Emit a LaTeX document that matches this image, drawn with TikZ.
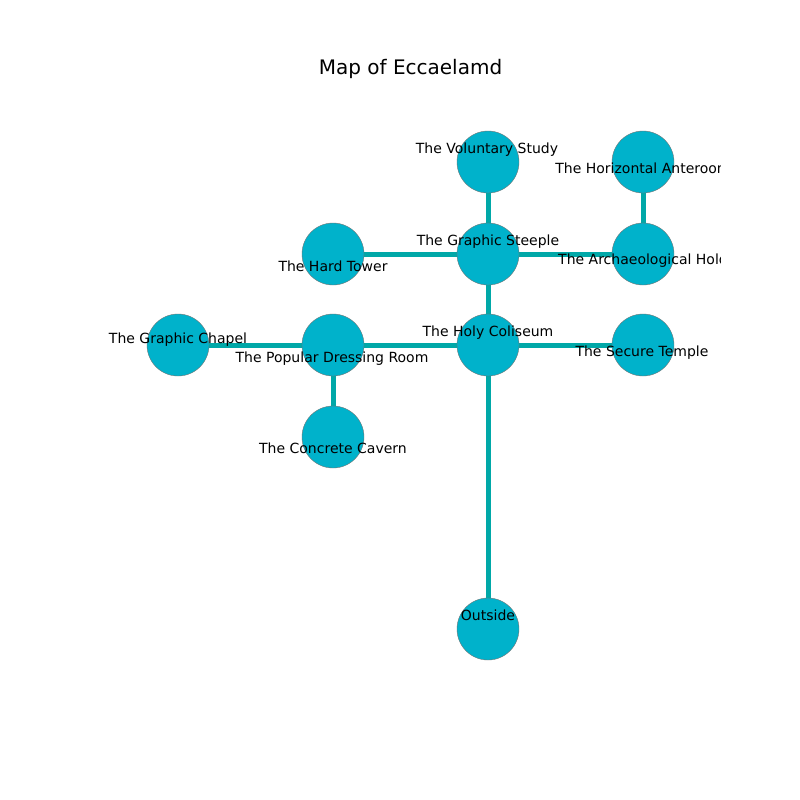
\documentclass[tikz,border=0pt]{standalone}
\usepackage{fontspec}
\setmainfont{DejaVu Sans}
\begin{document}
\begin{tikzpicture}[x=0.75pt,y=-0.75pt,
  room/.style={circle,draw=black!55,line width=0.3pt,fill=roomfill,minimum size=46.5pt,inner sep=0pt},
  lbl/.style={font=\fontsize{10.5}{12}\selectfont,inner sep=0pt,text=black,anchor=base},
  link/.style={draw=linkcol,line width=3.75pt}]
\definecolor{roomfill}{HTML}{00B2CB}
\definecolor{linkcol}{HTML}{00A8A8}
\useasboundingbox (0,0) rectangle (800,800);
\fill[white] (0,0) rectangle (800,800);
\node[font=\fontsize{15}{18}\selectfont,inner sep=0pt,anchor=base] (title) at (410.5,74) {Map of Eccaelamd};
\begin{scope}
\clip (100,96) rectangle (720,712);
\coordinate (vs) at (488,162);
\coordinate (ha) at (643,162);
\coordinate (ht) at (333,254);
\coordinate (gs) at (488,254);
\coordinate (ah) at (643,254);
\coordinate (gc) at (178,345);
\coordinate (pd) at (333,345);
\coordinate (hc) at (488,345);
\coordinate (st) at (643,345);
\coordinate (cc) at (333,437);
\coordinate (out) at (488,629);
\draw[link] (vs) -- (gs);
\draw[link] (ha) -- (ah);
\draw[link] (ht) -- (gs);
\draw[link] (gs) -- (ah);
\draw[link] (gs) -- (hc);
\draw[link] (gc) -- (pd);
\draw[link] (pd) -- (hc);
\draw[link] (pd) -- (cc);
\draw[link] (hc) -- (st);
\draw[link] (hc) -- (out);
\foreach \n in {vs,ha,ht,gs,ah,gc,pd,hc,st,cc,out}{\node[room] (n\n) at (\n) {};}
\node[lbl] (lvs) at (487,153.5) {The Voluntary Study};
\node[lbl] (lha) at (643,173.5) {The Horizontal Anteroom};
\node[lbl] (lht) at (333,271) {The Hard Tower};
\node[lbl] (lgs) at (488,245.5) {The Graphic Steeple};
\node[lbl] (lah) at (643,264.5) {The Archaeological Hold};
\node[lbl] (lgc) at (178,343.5) {The Graphic Chapel};
\node[lbl] (lpd) at (332,362.5) {The Popular Dressing Room};
\node[lbl] (lhc) at (488,336.5) {The Holy Coliseum};
\node[lbl] (lst) at (642,356.7) {The Secure Temple};
\node[lbl] (lcc) at (333,453.5) {The Concrete Cavern};
\node[lbl] (lout) at (488,620.7) {Outside};
\end{scope}
\end{tikzpicture}
\end{document}
